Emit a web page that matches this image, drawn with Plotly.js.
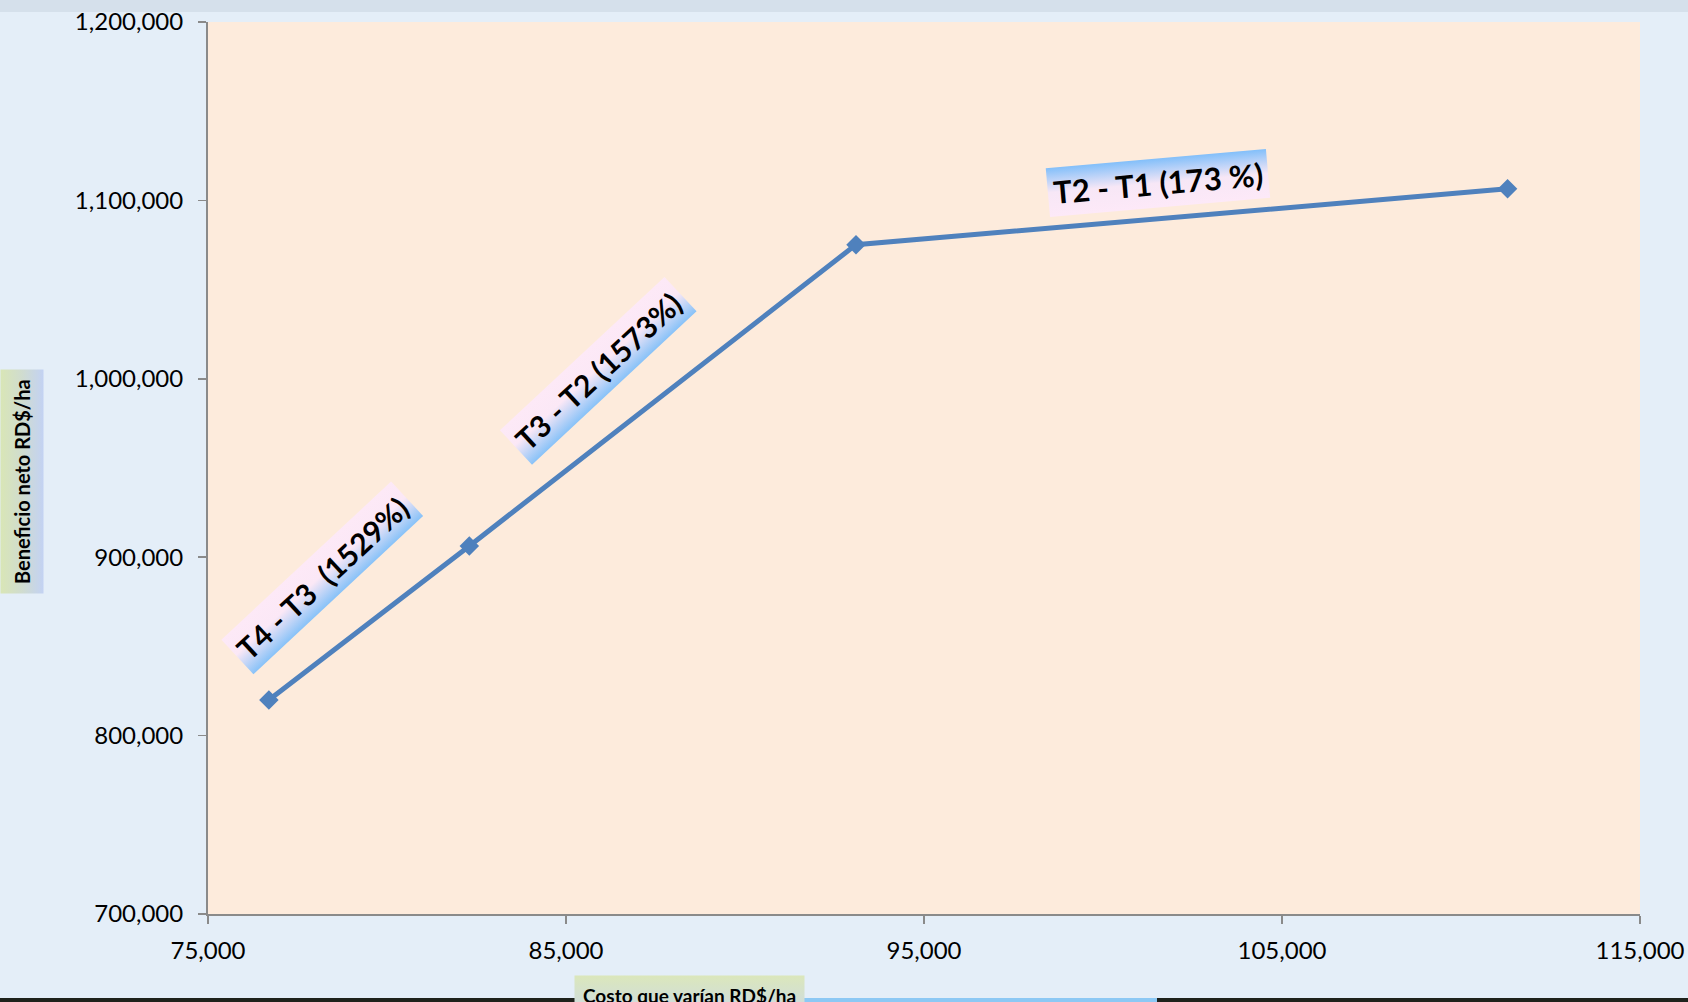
<!DOCTYPE html>
<html>
<head>
<meta charset="utf-8">
<script src="https://cdn.plot.ly/plotly-3.0.1.min.js"></script>
<style>
  html, body { margin: 0; padding: 0; background: #e4eef8; }
  #chart { width: 1688px; height: 1002px; }
</style>
</head>
<body>
<div id="chart"></div>
<script>
// Data
const costo = [76700, 82300, 93100, 111300];          // Costo que varían RD$/ha
const beneficio = [820000, 906300, 1075200, 1106500]; // Beneficio neto RD$/ha

const labelTexts = ['T4 - T3  (1529%)', 'T3 - T2 (1573%)', 'T2 - T1 (173 %)'];
const labelX = [78190, 85890, 101530];
const labelY = [888200, 1004600, 1109500];
const labelAngle = [-43, -43, -5];

const xTickVals = [75000, 85000, 95000, 105000, 115000];
const yTickVals = [700000, 800000, 900000, 1000000, 1100000, 1200000];

const FONT = 'Lato, "Open Sans", sans-serif';

const trace = {
  x: costo,
  y: beneficio,
  type: 'scatter',
  mode: 'lines+markers',
  line: { color: '#4f81bd', width: 5 },
  marker: { symbol: 'diamond', size: 15, color: '#4f81bd' },
  hoverinfo: 'x+y',
  showlegend: false
};

const annotations = labelTexts.map((t, i) => ({
  x: labelX[i], y: labelY[i], xref: 'x', yref: 'y',
  text: '<b>' + t + '</b>', showarrow: false,
  textangle: labelAngle[i],
  font: { family: FONT, size: i === 2 ? 31 : 30, color: '#000000' },
  bgcolor: '#fce9f6', borderpad: 5,
  xanchor: 'center', yanchor: 'middle'
}));

annotations.push({
  x: 22, y: 480, xref: 'paper', yref: 'paper',
  text: '<b>Beneficio neto RD$/ha</b>', showarrow: false,
  textangle: -90,
  font: { family: FONT, size: 20, color: '#000000' },
  bgcolor: '#d3ddd8', borderpad: 9,
  xanchor: 'center', yanchor: 'middle'
});
annotations.push({
  x: 689, y: 975, xref: 'paper', yref: 'paper',
  text: '<b>Costo que varían RD$/ha</b>', showarrow: false,
  font: { family: FONT, size: 19, color: '#000000' },
  bgcolor: '#d8e5c6', borderpad: 8,
  xanchor: 'center', yanchor: 'top'
});

const W = 1688, H = 1002;
// convert pixel positions for the two axis title boxes into paper fractions
const mL = 208, mR = 48, mT = 22, mB = 88;
const pw = W - mL - mR, ph = H - mT - mB;
annotations[3].x = (22 - mL) / pw; annotations[3].y = 1 - (482 - mT) / ph;
annotations[4].x = (689 - mL) / pw; annotations[4].y = 1 - (975 - mT) / ph;

const layout = {
  width: W, height: H,
  margin: { l: mL, r: mR, t: mT, b: mB, pad: 0 },
  paper_bgcolor: '#e4eef8',
  plot_bgcolor: '#fdebdc',
  font: { family: FONT, color: '#000000' },
  xaxis: {
    range: [75000, 115000],
    tickvals: xTickVals,
    tickformat: ',d',
    showgrid: false, zeroline: false,
    showline: true, linecolor: '#8a8a8a', linewidth: 2,
    ticks: 'outside', ticklen: 8, tickcolor: '#8a8a8a', tickwidth: 1.5,
    tickfont: { family: FONT, size: 24, color: '#000000' },
    ticklabelstandoff: 6,
    fixedrange: true
  },
  yaxis: {
    range: [700000, 1200000],
    tickvals: yTickVals,
    tickformat: ',d',
    showgrid: false, zeroline: false,
    showline: true, linecolor: '#8a8a8a', linewidth: 2,
    ticks: 'outside', ticklen: 8, tickcolor: '#8a8a8a', tickwidth: 1.5,
    tickfont: { family: FONT, size: 24, color: '#000000' },
    ticklabelstandoff: 10,
    fixedrange: true
  },
  shapes: [
    { type: 'rect', xref: 'paper', yref: 'paper', x0: -mL / pw, x1: 1 + mR / pw,
      y0: 1 + (mT - 12) / ph, y1: 1 + mT / ph, fillcolor: '#c3cfdc', opacity: 0.45, line: { width: 0 }, layer: 'below' },
    { type: 'rect', xref: 'paper', yref: 'paper', x0: -mL / pw, x1: 1 + mR / pw,
      y0: -(H - mT - ph) / ph, y1: -(998 - mT - ph) / ph, fillcolor: '#1e221c', line: { width: 0 }, layer: 'above' },
    { type: 'rect', xref: 'paper', yref: 'paper', x0: (581 - mL) / pw, x1: (1157 - mL) / pw,
      y0: -(H - mT - ph) / ph, y1: -(998 - mT - ph) / ph, fillcolor: '#8cc8f4', line: { width: 0 }, layer: 'above' }
  ],
  annotations: annotations
};

Plotly.newPlot('chart', [trace], layout, { displayModeBar: false, staticPlot: true }).then(() => {
  // Gradient fills for the label boxes
  const svg = document.querySelector('#chart svg.main-svg');
  const ns = 'http://www.w3.org/2000/svg';
  let defs = svg.querySelector('defs');
  if (!defs) { defs = document.createElementNS(ns, 'defs'); svg.insertBefore(defs, svg.firstChild); }
  function grad(id, stops) {
    const g = document.createElementNS(ns, 'linearGradient');
    g.setAttribute('id', id);
    g.setAttribute('x1', '0'); g.setAttribute('y1', '0');
    g.setAttribute('x2', '0'); g.setAttribute('y2', '1');
    stops.forEach(s => {
      const st = document.createElementNS(ns, 'stop');
      st.setAttribute('offset', s[0]); st.setAttribute('stop-color', s[1]);
      g.appendChild(st);
    });
    defs.appendChild(g);
  }
  grad('gPinkBlue', [['0', '#fde9f7'], ['0.45', '#fbe8f6'], ['1', '#88c2f8']]);
  grad('gBluePink', [['0', '#82bffa'], ['0.5', '#f7e7f6'], ['1', '#fde9f8']]);
  grad('gGreenBlue', [['0', '#d9e6b6'], ['0.5', '#d0dccf'], ['1', '#c3d2f3']]);
  grad('gGreen', [['0', '#dbe7bb'], ['1', '#ccd9e6']]);
  const fills = ['url(#gPinkBlue)', 'url(#gPinkBlue)', 'url(#gBluePink)', 'url(#gGreenBlue)', 'url(#gGreen)'];
  const anns = document.querySelectorAll('#chart .annotation');
  anns.forEach((a, i) => {
    const r = a.querySelector('rect.bg');
    if (r && fills[i]) r.style.fill = fills[i];
  });
});
</script>
</body>
</html>
